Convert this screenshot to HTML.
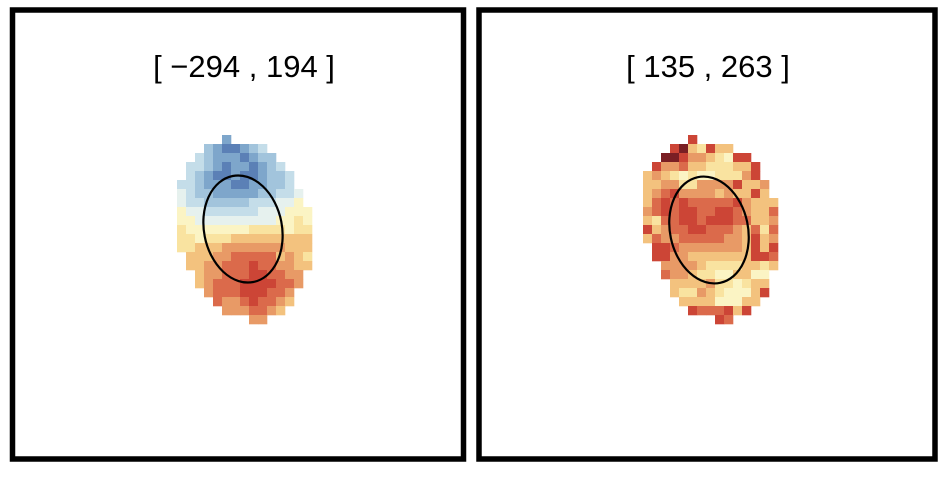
<!DOCTYPE html>
<html><head><meta charset="utf-8"><style>
html,body{margin:0;padding:0;background:#fff;width:944px;height:478px;overflow:hidden}
svg text{font-family:"Liberation Sans",sans-serif}
</style></head><body>
<svg id="chart" width="944" height="478" viewBox="0 0 944 478" xmlns="http://www.w3.org/2000/svg">
<rect x="12.5" y="10" width="451" height="449" fill="#fff" stroke="#000" stroke-width="5.5"/>
<rect x="479" y="10" width="456" height="449" fill="#fff" stroke="#000" stroke-width="5.5"/>
<text x="244" y="77" font-size="31" text-anchor="middle">[ −294 , 194 ]</text>
<text x="708" y="77" font-size="31" text-anchor="middle">[ 135 , 263 ]</text>
<g id="left-cells"></g>
<g id="right-cells"></g>
<ellipse cx="243" cy="229" rx="39" ry="54" transform="rotate(-11 243 229)" fill="none" stroke="#000" stroke-width="2.2"/>
<ellipse cx="709" cy="230" rx="39" ry="54" transform="rotate(-12 709 230)" fill="none" stroke="#000" stroke-width="2.2"/>
</svg>
<script>
const levels = ["a","b","c","d","e","f","g","h","i","j","k","l"];
const levelColors = ["#5b80b6","#7ea6cb","#a2c4dc","#c4dde9","#e6f1ee","#fbf4c4","#f9e3a0","#f3c27e","#e89a66","#db6a4b","#cc4536","#7a1f24"];
const leftRows = [
".....b.........",
"...cbaabcd.....",
"..dcbbbabcc....",
".ddcbabbabcd...",
".dcbaabaabccd..",
"ddcbbbaabbccd..",
"edccbbbbbccdde.",
"eddcccccdddeef.",
"feeddddddeeefff",
"ffeeeeeeeeeffgf",
"gfffffffggggfgg",
"ggfggghhhhhhhhh",
"gghhhiiiiiiihhh",
".hhhiijjjjjhihg",
".hhiijjjkjjiihh",
"..hiijjjkkjjii.",
"..hijjjkkkkjji.",
"...ijjjkkkjji..",
"....jiijkjjih..",
".....iiijjih...",
"........ii....."
];
const rightRows = [
".....k.........",
"...klhgkhh.....",
"..llkiihgfkk...",
".kiijhhggghhk..",
"hihgfgffgggik..",
"hhiiggiiiikhhi.",
"hijkiiiihihhkh.",
"hjkjkjjjjjkihhh",
"ijkjkkjjkkjihhj",
"hgjjkkjkkkjjhhi",
"khijjkkjjjihjgj",
"hjiijjjjjiihkhi",
".kkjiiiiiiihkhk",
".kkiihhhhhhhkkj",
"..iiiihgggghhgh",
"..jiihggffhhff.",
"...hhhhiggfghh.",
"...hggihgfffhk.",
"....hhhhfffhh..",
".....kjjjkhk...",
"........kj....."
];
function draw(gid, rows, x0, y0, cell, prefix){
  const g = document.getElementById(gid);
  rows.forEach((row, r) => {
    for (let c = 0; c < row.length; c++) {
      const idx = levels.indexOf(row[c]);
      if (idx < 0) continue;
      const rect = document.createElementNS("http://www.w3.org/2000/svg","rect");
      rect.setAttribute("x", x0 + c*cell);
      rect.setAttribute("y", y0 + r*cell);
      rect.setAttribute("width", cell + 0.3);
      rect.setAttribute("height", cell + 0.3);
      rect.setAttribute("fill", levelColors[idx]);
      
      
      g.appendChild(rect);
    }
  });
}
draw("left-cells", leftRows, 177, 135, 9, "left-heatmap");
draw("right-cells", rightRows, 643, 135, 9, "right-heatmap");
</script>
</body></html>
